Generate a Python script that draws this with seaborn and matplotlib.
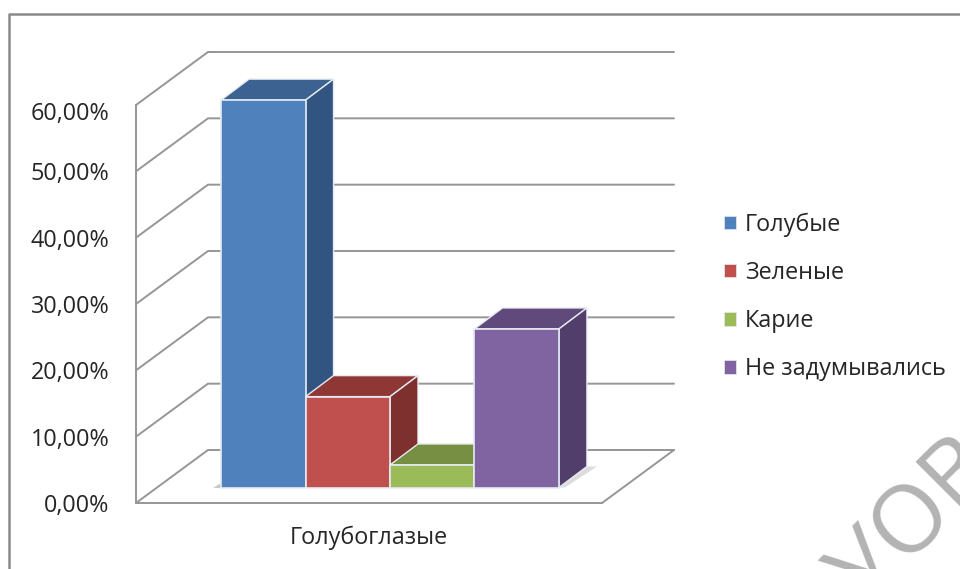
import matplotlib
matplotlib.use('Agg')
import matplotlib.pyplot as plt
from matplotlib.lines import Line2D
from matplotlib.patches import Polygon
from matplotlib.transforms import ScaledTranslation
import pandas as pd
import seaborn as sns

category = ['Голубоглазые']
answers = ['Голубые', 'Зеленые', 'Карие', 'Не задумывались']
shares = [58.4, 13.7, 3.4, 23.9]
yticks = [0, 10, 20, 30, 40, 50, 60]

front_colors = ['#4f81bd', '#c0504d', '#9bbb59', '#8064a2']
top_colors = ['#3b6290', '#8e3735', '#778f43', '#604a7b']
side_colors = ['#325480', '#7d302e', '#667a3a', '#513e6a']
grid_color = '#969696'

W, H = 960, 569
left_px, right_px, zero_px, top_px = 136, 602, 503, 105

sns.set_theme(style='white')
plt.rcParams['font.family'] = ['Open Sans', 'DejaVu Sans']

fig = plt.figure(figsize=(W / 100, H / 100), dpi=100, facecolor='white')
ax = fig.add_axes([left_px / W, (H - zero_px) / H,
                   (right_px - left_px) / W, (zero_px - top_px) / H])

df = pd.DataFrame({'group': category * len(answers),
                   'answer': answers, 'share': shares})
sns.barplot(data=df, x='group', y='share', hue='answer', hue_order=answers,
            palette=front_colors, width=0.725, gap=0, saturation=1,
            linewidth=0, ax=ax)
ax.set_xlim(-0.5, 0.5)
ax.set_ylim(0, 60)

# pixel sizes of the fake 3d depth, as data units
x_unit = right_px - left_px
y_unit = (zero_px - top_px) / 60
wall_dx, wall_dy = 72 / x_unit, 53 / y_unit
plane_dx, plane_dy = 21 / x_unit, 15.5 / y_unit
bar_dx, bar_dy = 28 / x_unit, 21 / y_unit

# walls
for v in yticks:
    ax.plot([-0.5, -0.5 + wall_dx, 0.5 + wall_dx], [v, v + wall_dy, v + wall_dy],
            color=grid_color, lw=1.4, clip_on=False, zorder=1,
            solid_joinstyle='miter')
ax.plot([0.5, 0.5 + wall_dx], [0, wall_dy], color=grid_color, lw=1.4,
        clip_on=False, zorder=1)

# bars: move onto the floor plane and add top and side faces
bars = [p for p in ax.patches if p.get_height() > 0][:len(answers)]
for i, p in enumerate(bars):
    p.set_x(p.get_x() + plane_dx)
    p.set_y(plane_dy)
    p.set_edgecolor('#e6ebf2')
    p.set_linewidth(1.2)
    p.set_clip_on(False)
    p.set_zorder(5 + 3 * i)
    x0, x1 = p.get_x(), p.get_x() + p.get_width()
    y0, y1 = p.get_y(), p.get_y() + p.get_height()
    top = Polygon([(x0, y1), (x1, y1), (x1 + bar_dx, y1 + bar_dy), (x0 + bar_dx, y1 + bar_dy)],
                  facecolor=top_colors[i], edgecolor='#e6ebf2', lw=1.0,
                  clip_on=False, zorder=3 + 3 * i)
    side = Polygon([(x1, y0), (x1, y1), (x1 + bar_dx, y1 + bar_dy), (x1 + bar_dx, y0 + bar_dy)],
                   facecolor=side_colors[i], edgecolor='#e6ebf2', lw=1.0,
                   clip_on=False, zorder=4 + 3 * i)
    ax.add_patch(top)
    ax.add_patch(side)

# soft floor shadow
x_end = bars[-1].get_x() + bars[-1].get_width()
ax.add_patch(Polygon([(x_end, plane_dy), (x_end + bar_dx, plane_dy + bar_dy),
                      (x_end + bar_dx + 10 / x_unit, plane_dy + bar_dy),
                      (x_end + 6 / x_unit, plane_dy)],
                     facecolor='#dcdcdc', edgecolor='none', clip_on=False, zorder=2))
x_start = bars[0].get_x()
ax.add_patch(Polygon([(x_start - 8 / x_unit, plane_dy), (x_start, plane_dy),
                      (x_start, plane_dy + 5 / y_unit)],
                     facecolor='#c8c8c8', edgecolor='none', clip_on=False, zorder=2))

# axes
sns.despine(ax=ax, top=True, right=True)
for side_name in ['left', 'bottom']:
    ax.spines[side_name].set_color(grid_color)
    ax.spines[side_name].set_linewidth(1.4)
ax.set_xlabel('')
ax.set_ylabel('')
ax.set_yticks(yticks)
ax.set_yticklabels([f'{v},00%' for v in yticks])
ax.tick_params(axis='y', length=0, pad=19, labelsize=16.8, labelcolor='#262626')
ax.tick_params(axis='x', length=0, pad=16.3, labelsize=16.8, labelcolor='#262626')
for lab in ax.get_yticklabels():
    if lab.get_text().startswith('60'):
        lab.set_transform(lab.get_transform() + ScaledTranslation(0, -4 / 72, fig.dpi_scale_trans))

handles, labels = ax.get_legend_handles_labels()
leg = ax.legend(handles, labels, loc='center left', bbox_to_anchor=(1.262, 0.518),
                frameon=False, fontsize=16.8, handlelength=0.51, handleheight=0.51,
                handletextpad=0.39, labelspacing=1.04, labelcolor='#262626',
                borderpad=0, borderaxespad=0)
for h in leg.legend_handles:
    h.set_edgecolor('#e6ebf2')
    h.set_linewidth(0.5)

# outer chart frame, cut by the crop of the picture
fig.add_artist(Line2D([8.5 / W, 8.5 / W, 1], [0, (H - 13.5) / H, (H - 13.5) / H],
                      color='#8a8a8a', lw=1.8, transform=fig.transFigure))

# scan watermark running off the corner
fig.text(915 / W, (H - 522) / H, 'УОВ', fontsize=68, color='#b3b3b3', rotation=45,
         ha='center', va='center', rotation_mode='anchor')

fig.savefig('out.png', dpi=100)
